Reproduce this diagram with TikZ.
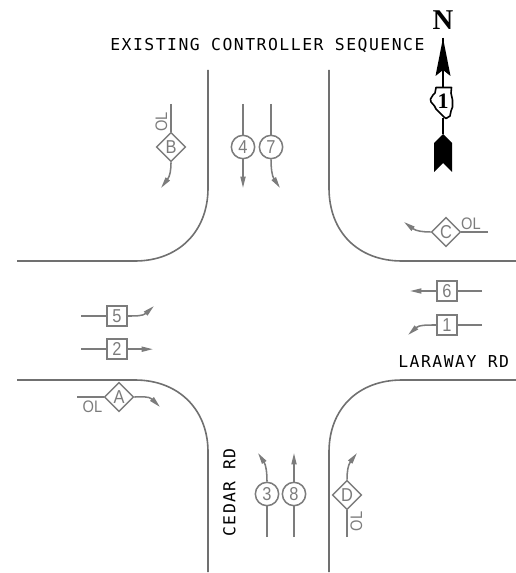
\documentclass[tikz,border=0pt]{standalone}
\usepackage{fontspec}
\usetikzlibrary{arrows.meta,shapes.geometric}
\newfontfamily\cadfont[LetterSpace=9.2]{DejaVu Sans Mono}
\newfontfamily\sigfont[FakeStretch=0.88]{Liberation Sans}
\newfontfamily\northfont{Liberation Serif}
\definecolor{roadgray}{HTML}{707070}
\definecolor{siggray}{HTML}{7C7C7C}
\tikzset{
  x=0.75pt,y=-0.75pt,
  roadline/.style={draw=roadgray,line width=1.2pt},
  sigline/.style={draw=siggray,line width=1.15pt},
  headline/.style={sigline,-{Triangle[length=8.5pt,width=3.8pt]}},
  sigcircle/.style={circle,draw=siggray,line width=1.15pt,minimum size=17.5pt,inner sep=0pt,text=siggray,font=\sigfont\fontsize{14}{14}\selectfont},
  sigbox/.style={rectangle,draw=siggray,line width=1.15pt,minimum size=15pt,inner sep=0pt,text=siggray,font=\sigfont\fontsize{14}{14}\selectfont},
  sigdiamond/.style={diamond,draw=siggray,line width=1.15pt,minimum size=22pt,inner sep=0pt,text=siggray,font=\sigfont\fontsize{14}{14}\selectfont},
  oltext/.style={text=siggray,inner sep=0pt,font=\sigfont\fontsize{12.5}{13}\selectfont},
  cadtext/.style={text=black,inner sep=0pt,font=\cadfont\fontsize{12.3}{13}\selectfont},
}
\begin{document}
\begin{tikzpicture}
\useasboundingbox (0,0) rectangle (516,573);
% roads
\draw[roadline] (208,70) -- (208,188) .. controls (208,232) and (178,261) .. (135,261) -- (17,261);
\draw[roadline] (329,70) -- (329,188) .. controls (329,232) and (358,261) .. (402,261) -- (516,261);
\draw[roadline] (17,380) -- (135,380) .. controls (178,380) and (208,409) .. (208,452) -- (208,572);
\draw[roadline] (329,572) -- (329,452) .. controls (329,409) and (358,380) .. (402,380) -- (516,380);
% text
\node[cadtext,anchor=west] (title) at (110,45.5) {EXISTING CONTROLLER SEQUENCE};
\node[cadtext,anchor=west] (laraway) at (398,362) {LARAWAY RD};
\node[cadtext,anchor=west,rotate=90] (cedar) at (229.5,537) {CEDAR RD};
% north arrow
\node[inner sep=0pt,font=\northfont\bfseries\fontsize{21.5}{22}\selectfont] (north) at (443,20.5) {N};
\coordinate (ntip) at (443,38);
\coordinate (illtop) at (443,87);
\coordinate (illbot) at (443,118);
\coordinate (tailtop) at (443,134);
\draw[black,line width=1.2pt] (ntip) -- (illtop) (illbot) -- (tailtop);
\fill[black] (ntip) -- (450.5,76) -- (443,70) -- (435.5,76) -- cycle;
\fill[black] (tailtop) -- (452,143) -- (452,172) -- (443,163) -- (434,172) -- (434,143) -- cycle;
\draw[black,line width=1.2pt,fill=white,line join=round] (436,87.5) -- (451.5,87.5) -- (451,93) -- (452.5,100) -- (452.5,107) -- (451,111) -- (450,116) -- (446,118.5) -- (444,117) -- (440,113) -- (436,109) -- (434.5,106) -- (431,102) -- (430.5,99) -- (433,95) -- (435,93) -- cycle;
\node[inner sep=0pt,font=\northfont\bfseries\fontsize{16.5}{17}\selectfont] (illone) at (443,101.5) {1};
% signals
\node[sigcircle] (s4) at (243,147) {4};
\node[sigcircle] (s7) at (271,147) {7};
\node[sigdiamond] (sB) at (171,147) {B};
\node[sigdiamond] (sC) at (446,232) {C};
\node[sigbox] (s6) at (447,291) {6};
\node[sigbox] (s1) at (447,325) {1};
\node[sigbox] (s5) at (117,316) {5};
\node[sigbox] (s2) at (117,349.2) {2};
\node[sigdiamond] (sA) at (119,397) {A};
\node[sigcircle] (s3) at (267,494) {3};
\node[sigcircle] (s8) at (294,494) {8};
\node[sigdiamond] (sD) at (347,495) {D};
% OL labels
\node[oltext,rotate=90] (olB) at (161.5,122) {OL};
\node[oltext] (olA) at (92.5,406.5) {OL};
\node[oltext] (olC) at (471,223.5) {OL};
\node[oltext,rotate=90] (olD) at (356.5,521.5) {OL};
% free ends
\coordinate (t4) at (243,104); \coordinate (e4) at (243,188);
\coordinate (t7) at (271,104); \coordinate (e7) at (280,188);
\coordinate (tB) at (171,104); \coordinate (eB) at (161,188);
\coordinate (tC) at (488,232); \coordinate (eC) at (404,222);
\coordinate (t6) at (482,291); \coordinate (e6) at (410,291);
\coordinate (t1) at (482,325); \coordinate (e1) at (408,335);
\coordinate (t5) at (81,316); \coordinate (e5) at (154,306);
\coordinate (t2) at (81,349.2); \coordinate (e2) at (153,349.2);
\coordinate (tA) at (77,397); \coordinate (eA) at (160,407);
\coordinate (t3) at (267,537); \coordinate (e3) at (258,453);
\coordinate (t8) at (294,537); \coordinate (e8) at (294,453);
\coordinate (tD) at (347,537); \coordinate (eD) at (357,453);
% connectors
\draw[sigline] (t4) -- (s4); \draw[headline] (s4) -- (e4);
\draw[sigline] (t7) -- (s7); \draw[headline] (s7.south) .. controls (271,168) and (272,176) .. (e7);
\draw[sigline] (tB) -- (sB); \draw[headline] (sB.south) .. controls (171,170) and (170,176) .. (eB);
\draw[sigline] (tC) -- (sC); \draw[headline] (sC.west) .. controls (423,232) and (416,231) .. (eC);
\draw[sigline] (t6) -- (s6); \draw[headline] (s6) -- (e6);
\draw[sigline] (t1) -- (s1); \draw[headline] (s1.west) .. controls (426,325) and (419,325) .. (e1);
\draw[sigline] (t5) -- (s5); \draw[headline] (s5.east) .. controls (136,316) and (143,316) .. (e5);
\draw[sigline] (t2) -- (s2); \draw[headline] (s2) -- (e2);
\draw[sigline] (tA) -- (sA); \draw[headline] (sA.east) .. controls (141,397) and (149,396) .. (eA);
\draw[sigline] (t3) -- (s3); \draw[headline] (s3.north) .. controls (267,473) and (266,465) .. (e3);
\draw[sigline] (t8) -- (s8); \draw[headline] (s8) -- (e8);
\draw[sigline] (tD) -- (sD); \draw[headline] (sD.north) .. controls (347,472) and (348,465) .. (eD);
\end{tikzpicture}
\end{document}
